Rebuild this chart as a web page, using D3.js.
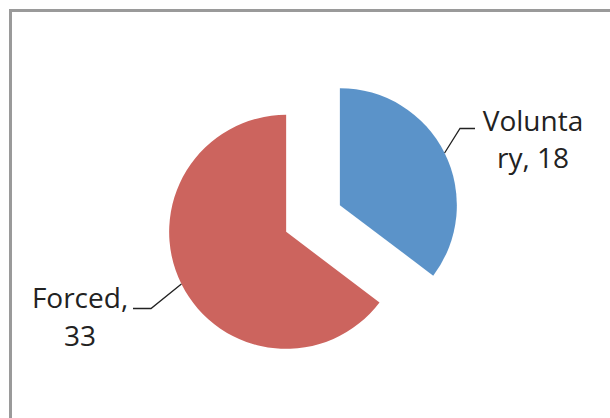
<!DOCTYPE html>
<html>
<head>
<meta charset="utf-8">
<script src="https://cdn.jsdelivr.net/npm/d3@7/dist/d3.min.js"></script>
<style>
  html, body { margin: 0; padding: 0; background: #fff; }
  svg { display: block; }
</style>
</head>
<body>
<svg id="chart" width="610" height="418"></svg>
<script>
// Exit types and counts
const categories = ["Voluntary", "Forced"];
const values = [18, 33];
const labelLines = [["Volunta", "ry, 18"], ["Forced,", "33"]];
const colors = ["#5B93C9", "#CC645E"];

const W = 610, H = 418;
const svg = d3.select("#chart");

// Chart frame
svg.append("rect")
  .attr("x", 10.5).attr("y", 10.5)
  .attr("width", W + 20).attr("height", H + 20)
  .attr("fill", "#fff")
  .attr("stroke", "#9a9a9a")
  .attr("stroke-width", 3);

const cx = 313, cy = 218.5;
const radius = 117;
const explode = 30;

const pie = d3.pie().sort(null).value(d => d.value).startAngle(0);
const arcs = pie(categories.map((c, i) => ({ name: c, value: values[i], i })));
const arc = d3.arc().innerRadius(0).outerRadius(radius);

const g = svg.append("g").attr("transform", `translate(${cx},${cy})`);

arcs.forEach(a => {
  const mid = (a.startAngle + a.endAngle) / 2;
  a.mid = mid;
  a.off = [Math.sin(mid) * explode, -Math.cos(mid) * explode];
});

g.selectAll("path.slice")
  .data(arcs)
  .join("path")
  .attr("class", "slice")
  .attr("transform", d => `translate(${d.off[0]},${d.off[1]})`)
  .attr("d", arc)
  .attr("fill", (d, i) => colors[i]);

// Label placement: leader goes from the slice rim at its mid-angle
const labelLayout = [
  { elbow: [147, -90], end: [162, -90], tx: 220, ty: -88, dy: 37 },
  { elbow: [-162, 90], end: [-180, 90], tx: -233, ty: 89, dy: 38 }
];

arcs.forEach((a, i) => {
  const L = labelLayout[i];
  const sx = a.off[0] + Math.sin(a.mid) * radius;
  const sy = a.off[1] - Math.cos(a.mid) * radius;
  g.append("path")
    .attr("d", d3.line()([[sx, sy], L.elbow, L.end]))
    .attr("fill", "none")
    .attr("stroke", "#222")
    .attr("stroke-width", 1.3);
  const t = g.append("text")
    .attr("text-anchor", "middle")
    .attr("font-family", "'Open Sans', sans-serif")
    .attr("font-size", 28)
    .attr("fill", "#222");
  labelLines[i].forEach((line, k) => {
    t.append("tspan").attr("x", L.tx).attr("y", L.ty + k * L.dy).text(line);
  });
});
</script>
</body>
</html>
